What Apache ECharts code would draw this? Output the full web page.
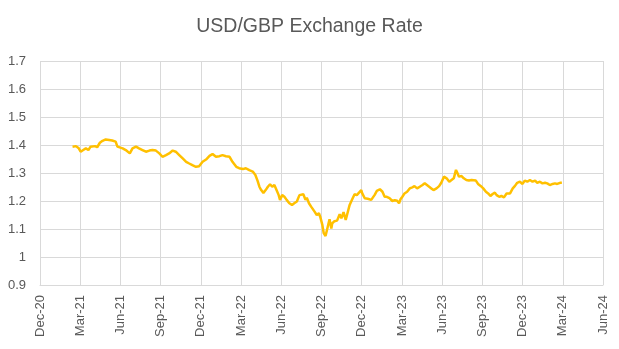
<!DOCTYPE html>
<html>
<head>
<meta charset="utf-8">
<script src="https://cdn.jsdelivr.net/npm/echarts@6/dist/echarts.min.js"></script>
<style>
  html, body { margin: 0; padding: 0; background: #fff; }
  #chart { width: 619px; height: 349px; }
</style>
</head>
<body>
<div id="chart"></div>
<script>
// Quarterly tick labels along the date axis (Dec 2020 .. Jun 2024)
const tickLabels = ['Dec-20','Mar-21','Jun-21','Sep-21','Dec-21','Mar-22','Jun-22','Sep-22',
                    'Dec-22','Mar-23','Jun-23','Sep-23','Dec-23','Mar-24','Jun-24'];

// Observation dates
const dates = [
  '2021-02-13','2021-02-20','2021-02-26','2021-03-02','2021-03-08','2021-03-14','2021-03-20','2021-03-25','2021-03-29',
  '2021-04-04','2021-04-09','2021-04-15','2021-04-21','2021-04-28','2021-05-06','2021-05-13','2021-05-21','2021-05-25','2021-05-29',
  '2021-06-06','2021-06-13','2021-06-17','2021-06-22','2021-06-28','2021-07-06','2021-07-13','2021-07-21','2021-07-29',
  '2021-08-06','2021-08-13','2021-08-21','2021-08-29','2021-09-05','2021-09-13','2021-09-20','2021-09-28',
  '2021-10-05','2021-10-13','2021-10-21','2021-10-29','2021-11-05','2021-11-12','2021-11-20','2021-11-27',
  '2021-12-05','2021-12-13','2021-12-21','2021-12-28','2022-01-05','2022-01-13','2022-01-20','2022-01-28',
  '2022-02-05','2022-02-11','2022-02-19','2022-02-25','2022-03-05','2022-03-12','2022-03-20','2022-03-28',
  '2022-04-03','2022-04-08','2022-04-12','2022-04-16','2022-04-21','2022-04-26','2022-05-01','2022-05-06','2022-05-11',
  '2022-05-16','2022-05-21','2022-05-26','2022-05-29','2022-06-03','2022-06-08','2022-06-13','2022-06-19','2022-06-25','2022-06-30',
  '2022-07-06','2022-07-12','2022-07-16','2022-07-21','2022-07-26','2022-07-29','2022-08-03','2022-08-08','2022-08-12',
  '2022-08-16','2022-08-21','2022-08-26','2022-08-29','2022-09-03','2022-09-06','2022-09-10','2022-09-15','2022-09-19',
  '2022-09-23','2022-09-25','2022-09-30','2022-10-06','2022-10-12','2022-10-16','2022-10-21','2022-10-26','2022-10-29',
  '2022-11-04','2022-11-10','2022-11-15','2022-11-20','2022-11-25','2022-11-30','2022-12-02','2022-12-08','2022-12-15',
  '2022-12-19','2022-12-23','2022-12-27','2022-12-31','2023-01-05','2023-01-12','2023-01-18','2023-01-23','2023-01-28',
  '2023-02-03','2023-02-09','2023-02-14','2023-02-19','2023-02-23','2023-02-26','2023-03-02','2023-03-07','2023-03-13',
  '2023-03-19','2023-03-25','2023-03-30','2023-04-05','2023-04-11','2023-04-17','2023-04-22','2023-04-26','2023-05-02',
  '2023-05-07','2023-05-12','2023-05-19','2023-05-25','2023-05-30','2023-06-05','2023-06-11','2023-06-17','2023-06-22',
  '2023-06-27','2023-07-02','2023-07-05','2023-07-09','2023-07-15','2023-07-20','2023-07-26','2023-08-01','2023-08-07',
  '2023-08-11','2023-08-17','2023-08-22','2023-08-28','2023-09-03','2023-09-09','2023-09-14','2023-09-19','2023-09-24',
  '2023-09-29','2023-10-03','2023-10-09','2023-10-14','2023-10-20','2023-10-26','2023-10-30','2023-11-03','2023-11-09',
  '2023-11-14','2023-11-19','2023-11-25','2023-12-01','2023-12-06','2023-12-12','2023-12-18','2023-12-24','2023-12-30',
  '2024-01-04','2024-01-10','2024-01-16','2024-01-22','2024-01-27','2024-02-02','2024-02-08','2024-02-13','2024-02-18',
  '2024-02-24','2024-02-28'
];

// USD/GBP rate on each date
const rates = [
  1.394,1.396,1.388,1.376,1.382,1.388,1.382,1.394,1.388,
  1.396,1.392,1.408,1.415,1.420,1.418,1.416,1.412,1.394,1.388,
  1.388,1.382,1.388,1.370,1.388,1.394,1.388,1.382,1.376,
  1.380,1.382,1.380,1.370,1.358,1.364,1.370,1.380,
  1.376,1.364,1.352,1.340,1.334,1.328,1.322,1.324,
  1.340,1.348,1.361,1.368,1.358,1.360,1.364,1.360,
  1.358,1.340,1.322,1.317,1.314,1.317,1.310,1.305,
  1.293,1.272,1.251,1.239,1.229,1.239,1.251,1.260,1.251,
  1.257,1.239,1.221,1.204,1.221,1.215,1.204,1.192,1.186,1.192,
  1.198,1.221,1.215,1.224,1.204,1.212,1.192,1.180,1.174,
  1.162,1.150,1.156,1.144,1.114,1.085,1.075,1.108,1.135,
  1.102,1.120,1.128,1.130,1.153,1.138,1.160,1.132,1.150,
  1.186,1.207,1.224,1.221,1.230,1.239,1.228,1.210,1.208,
  1.201,1.204,1.198,1.222,1.236,1.242,1.233,1.215,1.215,
  1.210,1.200,1.203,1.201,1.192,1.206,1.215,1.227,1.233,
  1.245,1.249,1.253,1.245,1.251,1.257,1.263,1.261,1.251,
  1.245,1.239,1.245,1.253,1.265,1.287,1.281,1.269,1.275,
  1.281,1.311,1.301,1.287,1.289,1.281,1.275,1.273,1.275,
  1.269,1.273,1.261,1.254,1.245,1.233,1.227,1.218,1.225,
  1.230,1.221,1.215,1.218,1.213,1.227,1.233,1.227,1.245,
  1.254,1.265,1.269,1.261,1.273,1.269,1.275,1.269,1.273,
  1.265,1.269,1.263,1.265,1.263,1.257,1.261,1.263,1.261,
  1.265,1.265
];

// Position of a date in months since 1 Dec 2020 (each month one unit wide)
function monthPos(s) {
  const [y, m, d] = s.split('-').map(Number);
  const dim = new Date(y, m, 0).getDate();
  return (y - 2020) * 12 + (m - 12) + (d - 1) / dim;
}

const seriesData = dates.map((d, i) => [monthPos(d), rates[i]]);

const FONT = '"Liberation Sans", Arial, sans-serif';
const GRID = '#d9d9d9';
const TEXT = '#595959';

const chart = echarts.init(document.getElementById('chart'), null, { renderer: 'canvas' });
chart.setOption({
  animation: false,
  backgroundColor: '#ffffff',
  title: {
    text: 'USD/GBP Exchange Rate',
    left: 'center',
    top: 12,
    textStyle: { fontFamily: FONT, fontSize: 19.5, fontWeight: 'normal', color: TEXT }
  },
  grid: { left: 40, right: 16, top: 61, bottom: 64, containLabel: false },
  xAxis: {
    type: 'value',
    min: 0,
    max: 42,
    interval: 3,
    axisLine: { show: true, lineStyle: { color: GRID, width: 1 } },
    axisTick: { show: false },
    splitLine: { show: true, lineStyle: { color: GRID, width: 1 } },
    axisLabel: {
      rotate: 90,
      margin: 10,
      color: TEXT,
      fontFamily: FONT,
      fontSize: 13,
      formatter: v => tickLabels[Math.round(v / 3)]
    }
  },
  yAxis: {
    type: 'value',
    min: 0.9,
    max: 1.7,
    interval: 0.1,
    axisLine: { show: false },
    axisTick: { show: false },
    splitLine: { show: true, lineStyle: { color: GRID, width: 1 } },
    axisLabel: {
      margin: 14,
      color: TEXT,
      fontFamily: FONT,
      fontSize: 13,
      formatter: v => String(Math.round(v * 10) / 10)
    }
  },
  series: [{
    type: 'line',
    data: seriesData,
    showSymbol: false,
    smooth: false,
    lineStyle: { color: '#FFC000', width: 2.5 },
    itemStyle: { color: '#FFC000' }
  }]
});
</script>
</body>
</html>
